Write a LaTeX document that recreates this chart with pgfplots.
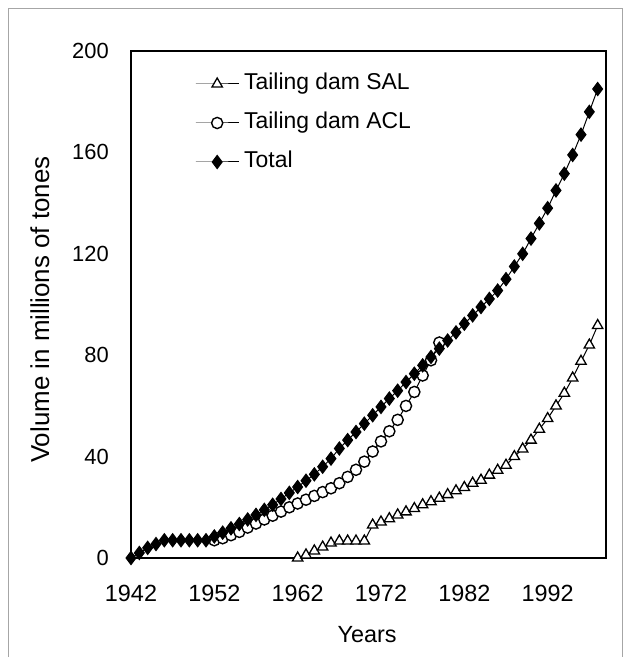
\documentclass[border=0pt]{standalone}
\usepackage{pgfplots}
\pgfplotsset{compat=1.18}
\usepackage{fontspec}
\setmainfont{Liberation Sans}

\pgfplotstableread{
year val
1962 0
1963 1.2
1964 2.8
1965 4.3
1966 5.9
1967 6.7
1968 6.7
1969 6.7
1970 6.7
1971 13
1972 14.2
1973 15.5
1974 17
1975 18.2
1976 19.5
1977 21
1978 22.2
1979 23.6
1980 25
1981 26.5
1982 27.8
1983 29.5
1984 30.7
1985 32.7
1986 34.6
1987 36.6
1988 40
1989 43
1990 46.5
1991 50.8
1992 55
1993 60
1994 65
1995 71
1996 77.6
1997 84
1998 91.7
}\sal

\pgfplotstableread{
year val
1952 7
1953 7.8
1954 9
1955 10.3
1956 12
1957 13.6
1958 15.2
1959 16.7
1960 18.3
1961 20
1962 21.5
1963 23
1964 24.5
1965 26
1966 27.5
1967 29.5
1968 32
1969 34.8
1970 38
1971 42
1972 46
1973 50
1974 54.5
1975 60
1976 65.5
1977 72
1978 78
1979 85
}\acl

\pgfplotstableread{
year val
1942 0
1943 2
1944 4
1945 5.5
1946 7
1947 7
1948 7
1949 7
1950 7
1951 7
1952 8.5
1953 10
1954 11.7
1955 13.4
1956 15.2
1957 17
1958 19
1959 21
1960 23.3
1961 25.7
1962 28
1963 30.5
1964 33
1965 36
1966 39.2
1967 43.2
1968 46.5
1969 49.7
1970 53
1971 56.3
1972 59.6
1973 62.9
1974 66
1975 69.4
1976 72.7
1977 76
1978 79.3
1979 82.6
1980 85.8
1981 89
1982 92.4
1983 95.7
1984 99
1985 102.2
1986 105.5
1987 110
1988 115
1989 120
1990 126
1991 132
1992 138
1993 145
1994 151.6
1995 159
1996 167
1997 176
1998 185
}\total

\begin{document}
\begin{tikzpicture}
\begin{axis}[
  name=ax,
  at={(0,0)}, anchor=south west,
  scale only axis,
  width=475bp, height=507bp,
  xmin=1942, xmax=1999,
  ymin=0, ymax=200,
  xtick={1942,1952,1962,1972,1982,1992},
  ytick={0,40,80,120,160,200},
  major tick length=0pt,
  axis line style={line width=1.5pt},
  /pgf/number format/assume math mode=true,
  xticklabel={\pgfmathprintnumber[1000 sep={}]{\tick}},
  yticklabel style={inner sep=0pt, xshift=-22bp, font=\fontsize{22}{26}\selectfont},
  xticklabel style={inner sep=0pt, yshift=-27bp, font=\fontsize{23.5}{28}\selectfont},
  xlabel={Years},
  ylabel={Volume in millions of tones},
  every axis x label/.style={at={(axis description cs:0.497,-0.151)}, anchor=center, font=\fontsize{23.5}{28}\selectfont},
  every axis y label/.style={at={(axis description cs:-0.192,0.49)}, anchor=center, rotate=90, font=\fontsize{26}{30}\selectfont},
  legend style={draw=none, fill=none, at={(0.1347,0.957)}, anchor=north west,
    row sep=17bp, column sep=0pt, inner sep=0pt,
    nodes={font=\fontsize{23}{27}\selectfont, inner sep=0pt, text height=17bp, text depth=5bp},
    /tikz/every odd column/.append style={column sep=5bp}},
  legend cell align=left,
  legend image code/.code={\draw[mark repeat=2,mark phase=2] plot coordinates {(0bp,0bp) (21.5bp,0bp) (43bp,0bp)};},
  clip=false,
]
\addplot[black, line width=1pt, mark=triangle*, mark size=6bp, mark options={fill=white, line width=1.3pt, solid}] table[x=year,y=val] {\sal};
\addlegendentry{Tailing dam SAL}
\addplot[black, line width=1pt, mark=*, mark size=5.6bp, mark options={fill=white, line width=1.4pt, solid}] table[x=year,y=val] {\acl};
\addlegendentry{Tailing dam ACL}
\addplot[black, line width=1pt, mark=diamond*, mark size=6.6bp, mark options={fill=black, solid}] table[x=year,y=val] {\total};
\addlegendentry{Total}
\end{axis}
\draw[gray!70, line width=0.6pt] ([shift={(-123bp,-99bp)}]ax.south west) -- ([shift={(-123bp,550bp)}]ax.south west) -- ([shift={(491bp,550bp)}]ax.south west) -- ([shift={(491bp,-99bp)}]ax.south west);
\useasboundingbox ([shift={(-131bp,-101bp)}]ax.south west) rectangle ([shift={(495bp,558bp)}]ax.south west);
\end{tikzpicture}
\end{document}
